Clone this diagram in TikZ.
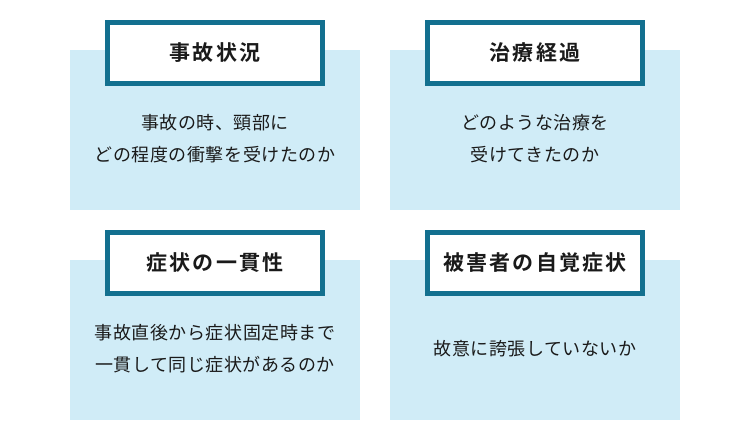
\documentclass[tikz,border=0pt]{standalone}
\usepackage{fontspec}
\newfontfamily\jpbody[LetterSpace=3]{Noto Sans CJK JP}
\newfontfamily\jptitle[LetterSpace=10,BoldFont={Noto Sans CJK JP Bold}]{Noto Sans CJK JP}
\definecolor{framec}{HTML}{13708F}
\definecolor{panelc}{HTML}{D0ECF7}
\definecolor{textc}{HTML}{1A1A1A}
\begin{document}
\begin{tikzpicture}[x=1pt,y=-1pt,
  panel/.style={fill=panelc,draw=none},
  titlebox/.style={draw=framec,line width=5pt,fill=white,minimum width=215pt,minimum height=61pt,inner sep=0pt,font=\jptitle\bfseries\fontsize{21}{24}\selectfont,text=textc},
  bodytext/.style={align=center,font=\jpbody\fontsize{18}{32}\selectfont,text=textc,inner sep=0pt}]
\useasboundingbox (0,0) rectangle (750,440);
% panels
\fill[panel] (70,50) rectangle (360,210);
\fill[panel] (390,50) rectangle (680,210);
\fill[panel] (70,260) rectangle (360,420);
\fill[panel] (390,260) rectangle (680,420);
% titles
\node[titlebox] (t1) at (215,53) {事故状況};
\node[titlebox] (t2) at (535,53) {治療経過};
\node[titlebox] (t3) at (215,263) {症状の一貫性};
\node[titlebox] (t4) at (535,263) {被害者の自覚症状};
% bodies
\node[bodytext] (b1) at (215,139) {事故の時、頸部に\\どの程度の衝撃を受けたのか};
\node[bodytext] (b2) at (535,139) {どのような治療を\\受けてきたのか};
\node[bodytext] (b3) at (215,349) {事故直後から症状固定時まで\\一貫して同じ症状があるのか};
\node[bodytext] (b4) at (535,349) {故意に誇張していないか};
\end{tikzpicture}
\end{document}
